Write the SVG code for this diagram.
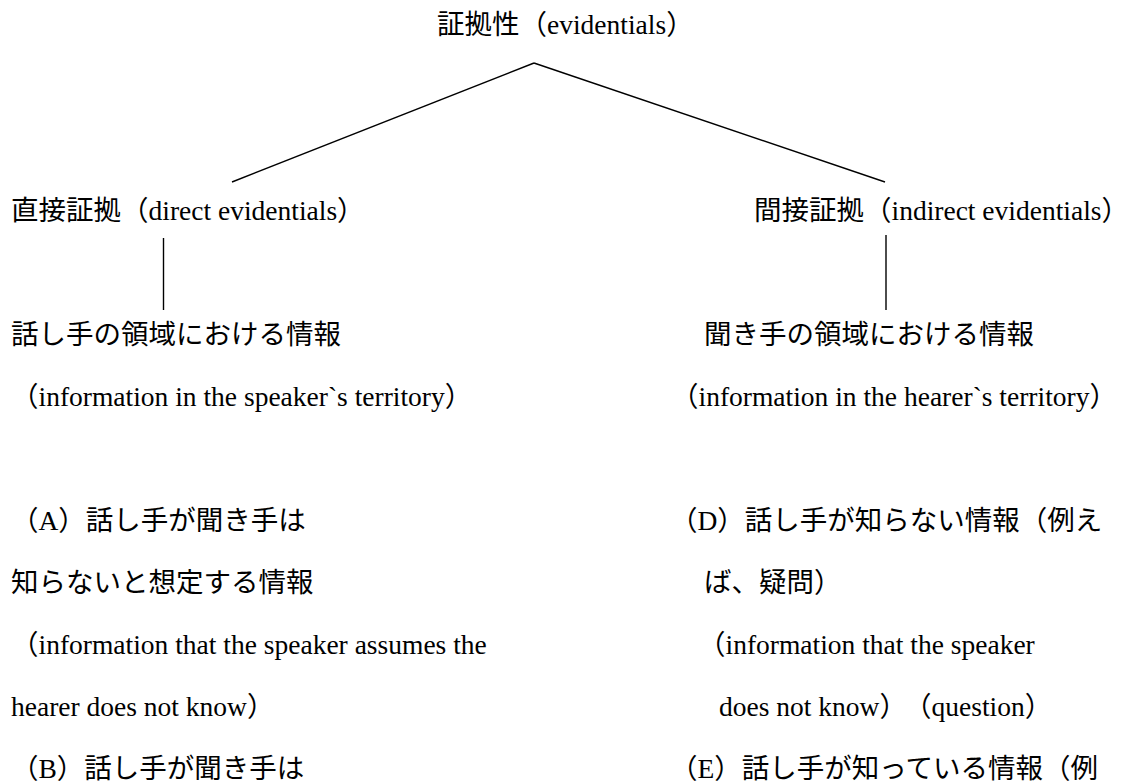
<svg xmlns="http://www.w3.org/2000/svg" width="1121" height="782" viewBox="0 0 1121 782">
<style>
  text { font-family: "Liberation Serif", "Noto Sans CJK JP", serif; font-size: 27.5px; fill: #000; text-spacing-trim: space-all; }
  .edge { stroke: #000; stroke-width: 1.4; fill: none; }
</style>
<rect width="1121" height="782" fill="#fff"/>
<g id="connectors">
  <line class="edge" x1="534" y1="63" x2="232" y2="182"/>
  <line class="edge" x1="534" y1="63" x2="885" y2="182"/>
  <line class="edge" x1="163.5" y1="238" x2="163.5" y2="310"/>
  <line class="edge" x1="886" y1="235" x2="886" y2="310"/>
</g>
<g id="node-evidentials">
  <text x="437" y="34">証拠性（evidentials）</text>
</g>
<g id="node-direct">
  <text x="11" y="220">直接証拠（direct evidentials）</text>
</g>
<g id="node-indirect">
  <text x="754" y="220">間接証拠（indirect evidentials）</text>
</g>
<g id="node-speaker-territory">
  <text x="11" y="344">話し手の領域における情報</text>
  <text x="11" y="406">（information in the speaker`s territory）</text>
</g>
<g id="node-hearer-territory">
  <text x="704" y="344">聞き手の領域における情報</text>
  <text x="671" y="406">（information in the hearer`s territory）</text>
</g>
<g id="node-A">
  <text x="11" y="530">（A）話し手が聞き手は</text>
  <text x="11" y="592">知らないと想定する情報</text>
  <text x="11" y="654">（information that the speaker assumes the</text>
  <text x="11" y="716">hearer does not know）</text>
</g>
<g id="node-B">
  <text x="11" y="778">（B）話し手が聞き手は</text>
</g>
<g id="node-D">
  <text x="670" y="530">（D）話し手が知らない情報（例え</text>
  <text x="704" y="592">ば、疑問）</text>
  <text x="698" y="654">（information that the speaker</text>
  <text x="719" y="716">does not know）<tspan x="904">（question）</tspan></text>
</g>
<g id="node-E">
  <text x="670" y="778">（E）話し手が知っている情報（例</text>
</g>
</svg>
